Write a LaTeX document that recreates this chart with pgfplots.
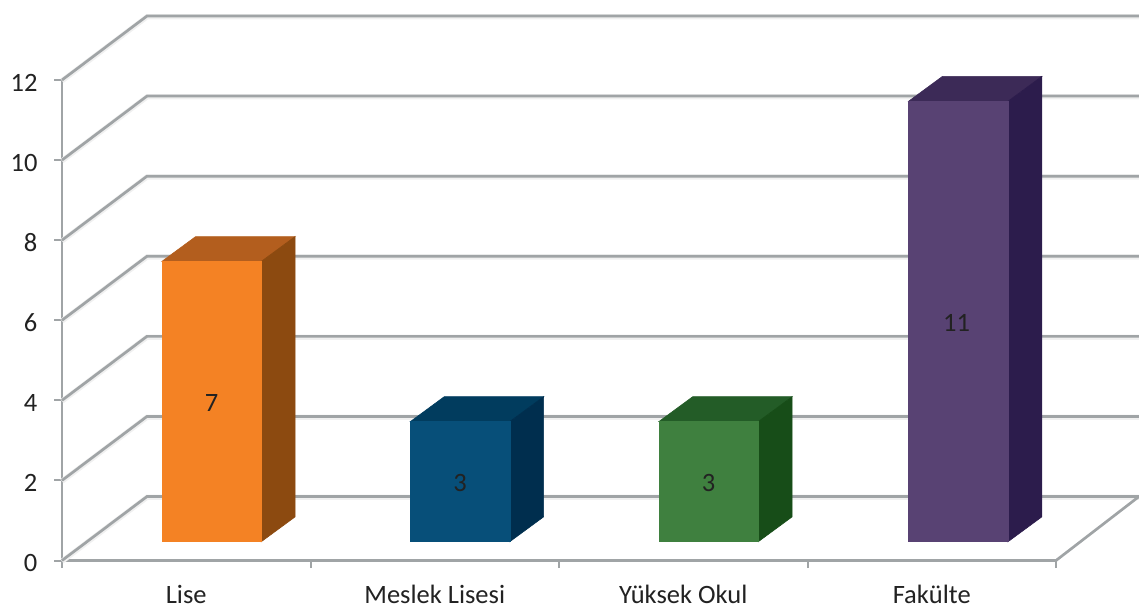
\documentclass[border=0pt]{standalone}
\usepackage{fontspec}
\setmainfont{Carlito}
\usepackage{pgfplots}
\pgfplotsset{compat=1.18}

% 1 px of the reference = 0.5pt
\definecolor{gridgray}{HTML}{A0A4A6}
\definecolor{labelc}{HTML}{222222}
\definecolor{orf}{HTML}{F48224}
\definecolor{ort}{HTML}{B35E1E}
\definecolor{ors}{HTML}{8C4A10}
\definecolor{blf}{HTML}{074F79}
\definecolor{blt}{HTML}{013C5E}
\definecolor{bls}{HTML}{002E4E}
\definecolor{grf}{HTML}{3F803F}
\definecolor{grt}{HTML}{235C27}
\definecolor{grs}{HTML}{174D18}
\definecolor{puf}{HTML}{584273}
\definecolor{put}{HTML}{3C2A57}
\definecolor{pus}{HTML}{2C1C4C}

\begin{document}
\begin{tikzpicture}
\useasboundingbox (0,0) rectangle (569.5pt,306pt);
\begin{axis}[
    at={(31pt,25.75pt)},
    anchor=south west,
    scale only axis,
    width=497pt, height=240.25pt,
    xmin=0, xmax=4, ymin=0, ymax=12,
    clip=false,
    axis lines=left,
    axis line style={gridgray, line width=1.25pt, -},
    tick style={gridgray, line width=1pt},
    tick align=outside,
    major tick length=3.75pt,
    xtick={0,1,2,3,4},
    x tick label as interval,
    xticklabels={Lise,Meslek Lisesi,Yüksek Okul,Fakülte},
    ytick={0,2,...,12},
    /pgf/number format/assume math mode=true,
    tick label style={font=\fontsize{13.25}{15}\selectfont, text=labelc},
    x tick label style={yshift=-5pt},
    y tick label style={xshift=-5pt, yshift=-1.25pt},
]
% walls: front edge, back edge
\pgfplotsforeachungrouped \k/\j in {0/1.598,2/3.598,4/5.598,6/7.598,8/9.598,10/11.598,12/13.598}{
  \edef\temp{\noexpand\addplot[gridgray, line width=1.35pt, forget plot, preaction={draw=gray!12, line width=2.6pt, transform canvas={yshift=-0.4pt}}] coordinates {(0,\k) (0.342,\j) (4.334,\j)};}
  \temp
}
% floor right edge
\addplot[gridgray, line width=1.35pt] coordinates {(4,0) (4.334,1.598)};

\pgfplotsset{face/.style={fill=#1, draw=#1, line width=0.3pt}}
% Lise = 7
\addplot[face=ort] coordinates {(0.402,7.47) (0.802,7.47) (0.938,8.09) (0.538,8.09)} -- cycle;
\addplot[face=ors] coordinates {(0.802,0.47) (0.938,1.09) (0.938,8.09) (0.802,7.47)} -- cycle;
\addplot[face=orf] coordinates {(0.402,0.47) (0.802,0.47) (0.802,7.47) (0.402,7.47)} -- cycle;
% Meslek Lisesi = 3
\addplot[face=blt] coordinates {(1.402,3.47) (1.802,3.47) (1.938,4.09) (1.538,4.09)} -- cycle;
\addplot[face=bls] coordinates {(1.802,0.47) (1.938,1.09) (1.938,4.09) (1.802,3.47)} -- cycle;
\addplot[face=blf] coordinates {(1.402,0.47) (1.802,0.47) (1.802,3.47) (1.402,3.47)} -- cycle;
% Yuksek Okul = 3
\addplot[face=grt] coordinates {(2.402,3.47) (2.802,3.47) (2.938,4.09) (2.538,4.09)} -- cycle;
\addplot[face=grs] coordinates {(2.802,0.47) (2.938,1.09) (2.938,4.09) (2.802,3.47)} -- cycle;
\addplot[face=grf] coordinates {(2.402,0.47) (2.802,0.47) (2.802,3.47) (2.402,3.47)} -- cycle;
% Fakulte = 11
\addplot[face=put] coordinates {(3.407,11.47) (3.807,11.47) (3.943,12.09) (3.543,12.09)} -- cycle;
\addplot[face=pus] coordinates {(3.807,0.47) (3.943,1.09) (3.943,12.09) (3.807,11.47)} -- cycle;
\addplot[face=puf] coordinates {(3.407,0.47) (3.807,0.47) (3.807,11.47) (3.407,11.47)} -- cycle;

% value labels
\addplot[draw=none, point meta=explicit symbolic,
    nodes near coords, nodes near coords align={center},
    every node near coord/.append style={font=\fontsize{13.25}{15}\selectfont, text=labelc}]
  coordinates {(0.602,3.93)[7] (1.602,1.94)[3] (2.602,1.94)[3] (3.6,5.92)[11]};
\end{axis}
\end{tikzpicture}
\end{document}
